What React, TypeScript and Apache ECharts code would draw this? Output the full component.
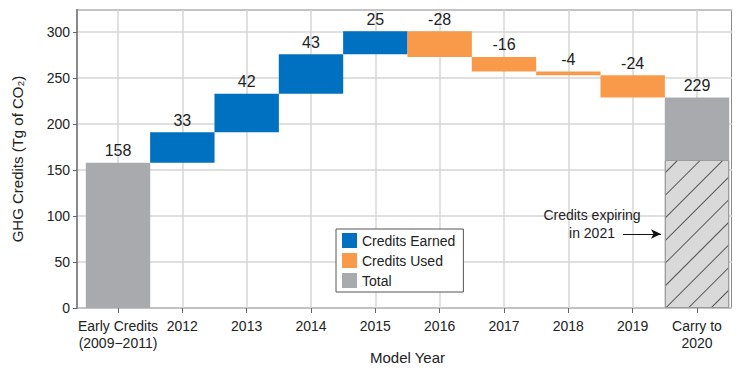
import React, { useEffect, useRef } from "react";
import * as echarts from "echarts";

const categories = [
  "Early Credits\n(2009−2011)",
  "2012",
  "2013",
  "2014",
  "2015",
  "2016",
  "2017",
  "2018",
  "2019",
  "Carry to\n2020",
];
// first and last entries are totals, the rest are yearly changes
const changes = [158, 33, 42, 43, 25, -28, -16, -4, -24, 229];
const expiringIn2021 = 161;
const yTicks = { min: 0, max: 324, interval: 50 };

const FONT = "'Liberation Sans', Arial, sans-serif";
const TXT = "#222";

function buildSeriesData() {
  const n = changes.length;
  const base: any[] = [];
  const earned: any[] = [];
  const used: any[] = [];
  const total: any[] = [];
  const hatch: any[] = [];
  let cum = 0;
  for (let i = 0; i < n; i++) {
    const c = changes[i];
    if (i === 0) {
      base.push("-");
      earned.push("-");
      used.push("-");
      hatch.push("-");
      total.push(c);
      cum = c;
    } else if (i === n - 1) {
      base.push("-");
      earned.push("-");
      used.push("-");
      hatch.push(expiringIn2021);
      total.push(c - expiringIn2021);
    } else if (c >= 0) {
      base.push(cum);
      earned.push(c);
      used.push("-");
      hatch.push("-");
      total.push("-");
      cum += c;
    } else {
      cum += c;
      base.push(cum);
      earned.push("-");
      used.push(-c);
      hatch.push("-");
      total.push("-");
    }
  }
  return { base, earned, used, total, hatch };
}

export default function App() {
  const ref = useRef<HTMLDivElement>(null);
  useEffect(() => {
    if (!ref.current) return;
    const chart = echarts.init(ref.current, undefined, { renderer: "svg" });
    const { base, earned, used, total, hatch } = buildSeriesData();
    const labelTexts = changes.map((v) => String(v));
    const topLabel = {
      show: true,
      position: "top",
      distance: 4,
      color: TXT,
      fontSize: 16,
      fontFamily: FONT,
      formatter: (p: any) => labelTexts[p.dataIndex],
    };
    const BW = 64.4;
    chart.setOption({
      animation: false,
      textStyle: { fontFamily: FONT },
      grid: [
        {
          left: 77,
          right: 8,
          top: 10,
          bottom: 67,
          show: true,
          borderColor: "#8a8a8a",
          borderWidth: 2,
          backgroundColor: "transparent",
          outerBoundsMode: "none",
        },
        { left: 118, right: 43, top: 10, bottom: 67, outerBoundsMode: "none" },
      ],
      xAxis: [
        { type: "value", gridIndex: 0, show: false, min: 0, max: 1 },
        {
          type: "category",
          gridIndex: 1,
          data: categories,
          boundaryGap: false,
          axisLine: { show: false },
          axisTick: { show: true, length: 5, lineStyle: { color: "#666" } },
          splitLine: { show: true, lineStyle: { color: "#d6d6d6", width: 1.5 } },
          axisLabel: {
            color: TXT,
            fontSize: 14,
            fontFamily: FONT,
            margin: 9,
            lineHeight: 17,
            interval: 0,
          },
          name: "Model Year",
          nameLocation: "middle",
          nameGap: 42,
          nameMoveOverlap: false,
          nameTextStyle: { color: TXT, fontSize: 15, fontFamily: FONT },
        },
      ],
      yAxis: [
        {
          type: "value",
          gridIndex: 0,
          ...yTicks,
          axisLine: { show: true, lineStyle: { color: "#8a8a8a", width: 2 } },
          axisTick: { show: true, length: 4, lineStyle: { color: "#666" } },
          splitLine: { show: true, lineStyle: { color: "#d6d6d6", width: 1.5 } },
          axisLabel: {
            color: TXT,
            fontSize: 14,
            fontFamily: FONT,
            margin: 7,
            showMaxLabel: false,
            formatter: (v: number) => (v % 50 === 0 && v <= 300 ? String(v) : ""),
          },
          name: "GHG Credits (Tg of CO₂)",
          nameLocation: "middle",
          nameGap: 52,
          nameMoveOverlap: false,
          nameTextStyle: { color: TXT, fontSize: 15, fontFamily: FONT },
        },
        { type: "value", gridIndex: 1, ...yTicks, show: false, splitLine: { show: false } },
      ],
      legend: {
        data: ["Credits Earned", "Credits Used", "Total"],
        orient: "vertical",
        left: 336,
        top: 229,
        itemWidth: 15,
        itemHeight: 15,
        itemGap: 5,
        icon: "rect",
        padding: [4, 8, 4, 6],
        borderColor: "#555",
        borderWidth: 1,
        backgroundColor: "#fff",
        textStyle: { color: TXT, fontSize: 14, fontFamily: FONT },
      },
      graphic: [
        {
          type: "text",
          x: 592,
          y: 224,
          style: {
            text: "Credits expiring\nin 2021",
            fill: TXT,
            fontSize: 14,
            fontFamily: FONT,
            align: "center",
            verticalAlign: "middle",
            lineHeight: 18,
          },
          z: 20,
        },
      ],
      series: [
        {
          name: "base",
          type: "bar",
          stack: "w",
          xAxisIndex: 1,
          yAxisIndex: 1,
          barWidth: BW,
          clip: false,
          itemStyle: { color: "transparent" },
          data: base,
        },
        {
          name: "Expiring",
          type: "bar",
          stack: "w",
          xAxisIndex: 1,
          yAxisIndex: 1,
          barWidth: BW,
          clip: false,
          itemStyle: {
            color: "#d9d9d9",
            borderColor: "#9a9a9a",
            borderWidth: 1,
            decal: {
              symbol: "rect",
              symbolSize: 1,
              color: "#555",
              dashArrayX: [1, 0],
              dashArrayY: [1, 15],
              rotation: -Math.PI / 4,
            },
          },
          markLine: {
            silent: true,
            symbol: ["none", "arrow"],
            symbolSize: [7, 10],
            label: { show: false },
            lineStyle: { color: "#111", width: 1, type: "solid" },
            data: [[{ x: 623, y: 234 }, { x: 661, y: 234 }]],
          },
          data: hatch,
        },
        {
          name: "Credits Earned",
          type: "bar",
          stack: "w",
          xAxisIndex: 1,
          yAxisIndex: 1,
          barWidth: BW,
          clip: false,
          itemStyle: { color: "#0070c0" },
          label: topLabel,
          data: earned,
        },
        {
          name: "Credits Used",
          type: "bar",
          stack: "w",
          xAxisIndex: 1,
          yAxisIndex: 1,
          barWidth: BW,
          clip: false,
          itemStyle: { color: "#f99a4b" },
          label: topLabel,
          data: used,
        },
        {
          name: "Total",
          type: "bar",
          stack: "w",
          xAxisIndex: 1,
          yAxisIndex: 1,
          barWidth: BW,
          clip: false,
          itemStyle: { color: "#a9aaae" },
          label: topLabel,
          data: total,
        },
      ],
    });
    return () => chart.dispose();
  }, []);
  return <div ref={ref} style={{ width: 740, height: 375, margin: -8 }} />;
}
